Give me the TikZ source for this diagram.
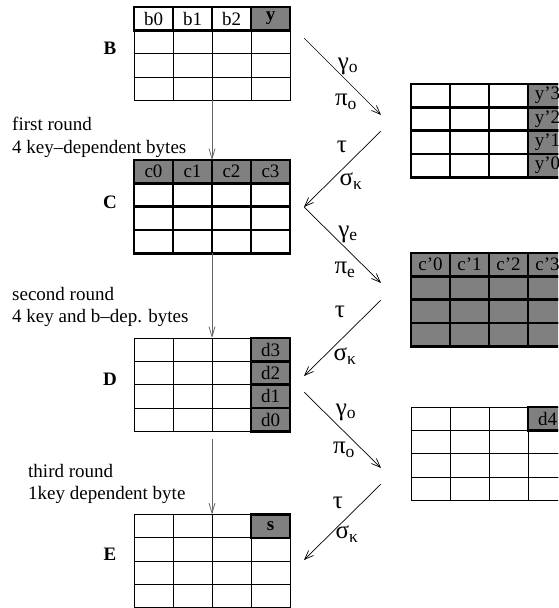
\documentclass[tikz,border=0pt]{standalone}
\usepackage{fontspec}
\setmainfont{Liberation Serif}
\usepackage{tikz}
\usetikzlibrary{arrows.meta,positioning}

\tikzset{
  cell/.style={draw, line width=0.8pt, minimum width=39pt, minimum height=23.3pt,
    inner sep=0pt, outer sep=0pt},
  boldcell/.style={cell, line width=2.6pt},
  keycell/.style={boldcell, fill=gray},
  gridname/.style={anchor=base, inner sep=0pt},
  note/.style={anchor=base west, inner sep=0pt},
  greek/.style={inner sep=0pt, font=\fontsize{25}{27}\selectfont},
  flow/.style={draw=black!60, line width=0.8pt, -{Straight Barb[length=10pt,width=6pt]}},
  map/.style={draw, line width=0.7pt, -{Straight Barb[length=9pt,width=7pt]}}
}

% 4x4 byte array: name, left, top, cell style
\newcommand{\bytegrid}[4]{%
  \foreach \gr in {0,...,3}
    \foreach \gc in {0,...,3}
      \node[#4] (#1-\gr-\gc) at ({#2+19.5+39*\gc},{#3+11.65+23.3*\gr}) {};
}

\begin{document}
\begin{tikzpicture}[x=1pt, y=-1pt, font=\fontsize{19}{21}\selectfont]
  \useasboundingbox (0,0) rectangle (558,608);
  \clip (0,0) rectangle (558,608);

  % state B
  \bytegrid{B}{134}{7}{cell}
  \foreach \gc/\txt in {0/b0,1/b1,2/b2}
    \node[boldcell] (B-h\gc) at (B-0-\gc) {\txt};
  \node[keycell] (B-y) at (B-0-3) {\textbf{y}};
  \node[gridname] (lB) at (110,54) {\bfseries B};

  % state C
  \bytegrid{C}{134}{160}{boldcell}
  \foreach \gc in {0,...,3}
    \node[keycell] (C-h\gc) at (C-0-\gc) {c\gc};
  \node[gridname] (lC) at (110,208) {\bfseries C};

  % state D
  \bytegrid{D}{134}{338}{cell}
  \foreach \gr/\k in {0/3,1/2,2/1,3/0}
    \node[keycell] (D-k\k) at (D-\gr-3) {d\k};
  \node[gridname] (lD) at (110,385) {\bfseries D};

  % state E
  \bytegrid{E}{134}{514.5}{cell}
  \node[keycell] (E-s) at (E-0-3) {\textbf{s}};
  \node[gridname] (lE) at (110,560) {\bfseries E};

  % intermediate states on the right
  \bytegrid{Y}{411}{84}{boldcell}
  \foreach \gr/\k in {0/3,1/2,2/1,3/0}
    \node[keycell] (Y-k\k) at (Y-\gr-3) {y'\k};

  \bytegrid{Cp}{411}{253}{keycell}
  \foreach \gc in {0,...,3}
    \node[inner sep=0pt] (Cp-t\gc) at (Cp-0-\gc) {c'\gc};

  \bytegrid{F}{411}{407}{cell}
  \node[keycell] (F-k4) at (F-0-3) {d4};

  % round notes
  \node[note] (n1a) at (12,130) {first round};
  \node[note] (n1b) at (12,153) {4 key--dependent bytes};
  \node[note] (n2a) at (12,300) {second round};
  \node[note] (n2b) at (12,322) {4 key and b--dep. bytes};
  \node[note] (n3a) at (28,477) {third round};
  \node[note] (n3b) at (28,499) {1key dependent byte};

  % rounds
  \draw[flow] (B-3-1.south east) -- (C-0-1.north east);
  \draw[flow] (C-3-1.south east) -- (D-0-1.north east);
  \draw[flow] ([yshift=-8pt]D-3-1.south east) -- (E-0-1.north east);

  % zigzag of the round functions
  \coordinate (p0) at (304,38);
  \coordinate (q0) at (381,115);
  \coordinate (q0b) at (381,131);
  \coordinate (p1) at (304,207);
  \coordinate (q1) at (381,283);
  \coordinate (q1b) at (381,300);
  \coordinate (p2) at (304,376);
  \coordinate (p2b) at (304,392);
  \coordinate (q2) at (381,468);
  \coordinate (q2b) at (381,484);
  \coordinate (p3) at (304,560);
  \draw[map] (p0) -- (q0);
  \draw[map] (q0b) -- (p1);
  \draw[map] (p1) -- (q1);
  \draw[map] (q1b) -- (p2);
  \draw[map] (p2b) -- (q2);
  \draw[map] (q2b) -- (p3);

  \node[greek] (g1) at (348,66) {γ\textsubscript{o}};
  \node[greek] (pi1) at (346,102) {π\textsubscript{o}};
  \node[greek] (t1) at (342,147) {τ};
  \node[greek] (s1) at (351,181) {σ\textsubscript{κ}};
  \node[greek] (g2) at (348,234) {γ\textsubscript{e}};
  \node[greek] (pi2) at (345,270) {π\textsubscript{e}};
  \node[greek] (t2) at (340,312) {τ};
  \node[greek] (s2) at (345,356) {σ\textsubscript{κ}};
  \node[greek] (g3) at (346,412) {γ\textsubscript{o}};
  \node[greek] (pi3) at (344,450) {π\textsubscript{o}};
  \node[greek] (t3) at (338,503) {τ};
  \node[greek] (s3) at (347,534) {σ\textsubscript{κ}};
\end{tikzpicture}
\end{document}
